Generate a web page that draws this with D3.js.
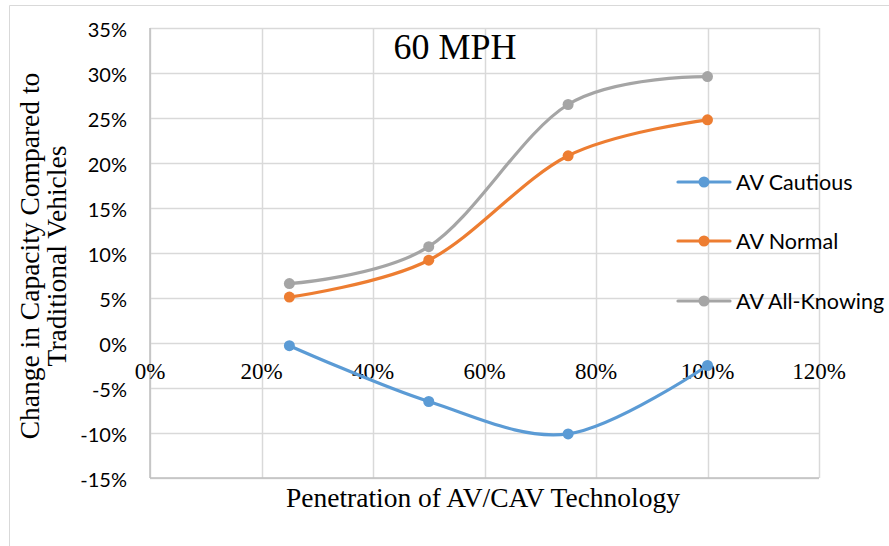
<!DOCTYPE html>
<html lang="en">
<head>
<meta charset="utf-8">
<title>60 MPH</title>
<style>
    body { margin: 0; background: #fff; }
    .serif { font-family: "Liberation Serif", "Times New Roman", serif; fill: #000; }
    .sans { font-family: Lato, "Open Sans", sans-serif; fill: #000; }
</style>
</head>
<body>
<svg id="chart" width="889" height="546"></svg>
<script src="https://d3js.org/d3.v7.min.js"></script>
<script>
    const penetration = [25, 50, 75, 100];
    const cautious = [-0.3, -6.5, -10.1, -2.5];
    const normal = [5.1, 9.2, 20.8, 24.8];
    const allKnowing = [6.6, 10.7, 26.5, 29.6];
    const seriesNames = ["AV Cautious", "AV Normal", "AV All-Knowing"];
    const colors = ["#5B9BD5", "#ED7D31", "#A5A5A5"];
    const xTicks = [0, 20, 40, 60, 80, 100, 120];
    const yTicks = [-15, -10, -5, 0, 5, 10, 15, 20, 25, 30, 35];

    const allSeries = [cautious, normal, allKnowing];

    const svg = d3.select("#chart");

    // chart border
    svg.append("path")
        .attr("d", "M9.5,546 V5.5 H889")
        .attr("fill", "none")
        .attr("stroke", "#D9D9D9");

    const x = d3.scaleLinear().domain([0, 120]).range([150, 819]);
    const y = d3.scaleLinear().domain([-15, 35]).range([478, 28]);

    // gridlines
    svg.append("g").selectAll("line")
        .data(yTicks)
        .enter().append("line")
        .attr("x1", x(0)).attr("x2", x(120))
        .attr("y1", d => Math.round(y(d)) + 0.5).attr("y2", d => Math.round(y(d)) + 0.5)
        .attr("stroke", "#D9D9D9").attr("stroke-width", 1.5);
    svg.append("g").selectAll("line")
        .data(xTicks)
        .enter().append("line")
        .attr("y1", y(-15)).attr("y2", y(35))
        .attr("x1", d => Math.round(x(d)) + 0.5).attr("x2", d => Math.round(x(d)) + 0.5)
        .attr("stroke", "#D9D9D9").attr("stroke-width", 1.5);

    // axis lines
    svg.append("line")
        .attr("x1", x(0)).attr("x2", x(0))
        .attr("y1", y(-15)).attr("y2", y(35))
        .attr("stroke", "#BFBFBF").attr("stroke-width", 1.5);
    svg.append("line")
        .attr("x1", x(0)).attr("x2", x(120))
        .attr("y1", y(-15)).attr("y2", y(-15))
        .attr("stroke", "#BFBFBF").attr("stroke-width", 1.5);

    // y tick labels
    svg.append("g").selectAll("text")
        .data(yTicks)
        .enter().append("text")
        .attr("class", "sans")
        .attr("x", 127)
        .attr("y", d => y(d) + 8.5)
        .attr("text-anchor", "end")
        .style("font-size", "20px")
        .text(d => d + "%");

    // x tick labels (sit on the 0% line)
    svg.append("g").selectAll("text")
        .data(xTicks)
        .enter().append("text")
        .attr("class", "serif")
        .attr("x", d => x(d))
        .attr("y", y(0) + 36)
        .attr("text-anchor", "middle")
        .style("font-size", "23px")
        .text(d => d + "%");

    // lines
    const line = d3.line()
        .x((d, i) => x(penetration[i]))
        .y(d => y(d))
        .curve(d3.curveCardinal.tension(0));

    allSeries.forEach(function(s, k) {
        svg.append("path")
            .datum(s)
            .attr("d", line)
            .attr("fill", "none")
            .attr("stroke", colors[k])
            .attr("stroke-width", 3.2)
            .attr("stroke-linecap", "round");
        svg.append("g").selectAll("circle")
            .data(s)
            .enter().append("circle")
            .attr("cx", (d, i) => x(penetration[i]))
            .attr("cy", d => y(d))
            .attr("r", 5.5)
            .attr("fill", colors[k]);
    });

    // title
    svg.append("text")
        .attr("class", "serif")
        .attr("x", 455)
        .attr("y", 59)
        .attr("text-anchor", "middle")
        .style("font-size", "36px")
        .text("60 MPH");

    // axis titles
    svg.append("text")
        .attr("class", "serif")
        .attr("x", 483)
        .attr("y", 507)
        .attr("text-anchor", "middle")
        .style("font-size", "27.5px")
        .text("Penetration of AV/CAV Technology");

    const yTitle = svg.append("text")
        .attr("class", "serif")
        .attr("transform", "translate(39,256) rotate(-90)")
        .attr("text-anchor", "middle")
        .style("font-size", "27.5px");
    yTitle.append("tspan").attr("x", 0).attr("y", 0).text("Change in Capacity Compared to");
    yTitle.append("tspan").attr("x", 0).attr("y", 27).text("Traditional Vehicles");

    // legend
    const legend = svg.append("g").selectAll("g")
        .data(seriesNames)
        .enter().append("g")
        .attr("transform", (d, i) => "translate(0," + [182, 241, 301][i] + ")");
    legend.append("line")
        .attr("x1", 678).attr("x2", 730)
        .attr("stroke", (d, i) => colors[i])
        .attr("stroke-width", 3.2)
        .attr("stroke-linecap", "round");
    legend.append("circle")
        .attr("cx", 704).attr("r", 5.5)
        .attr("fill", (d, i) => colors[i]);
    legend.append("text")
        .attr("class", "sans")
        .attr("x", 736)
        .attr("dy", "0.36em")
        .style("font-size", "21.5px")
        .text(d => d);
</script>
</body>
</html>
